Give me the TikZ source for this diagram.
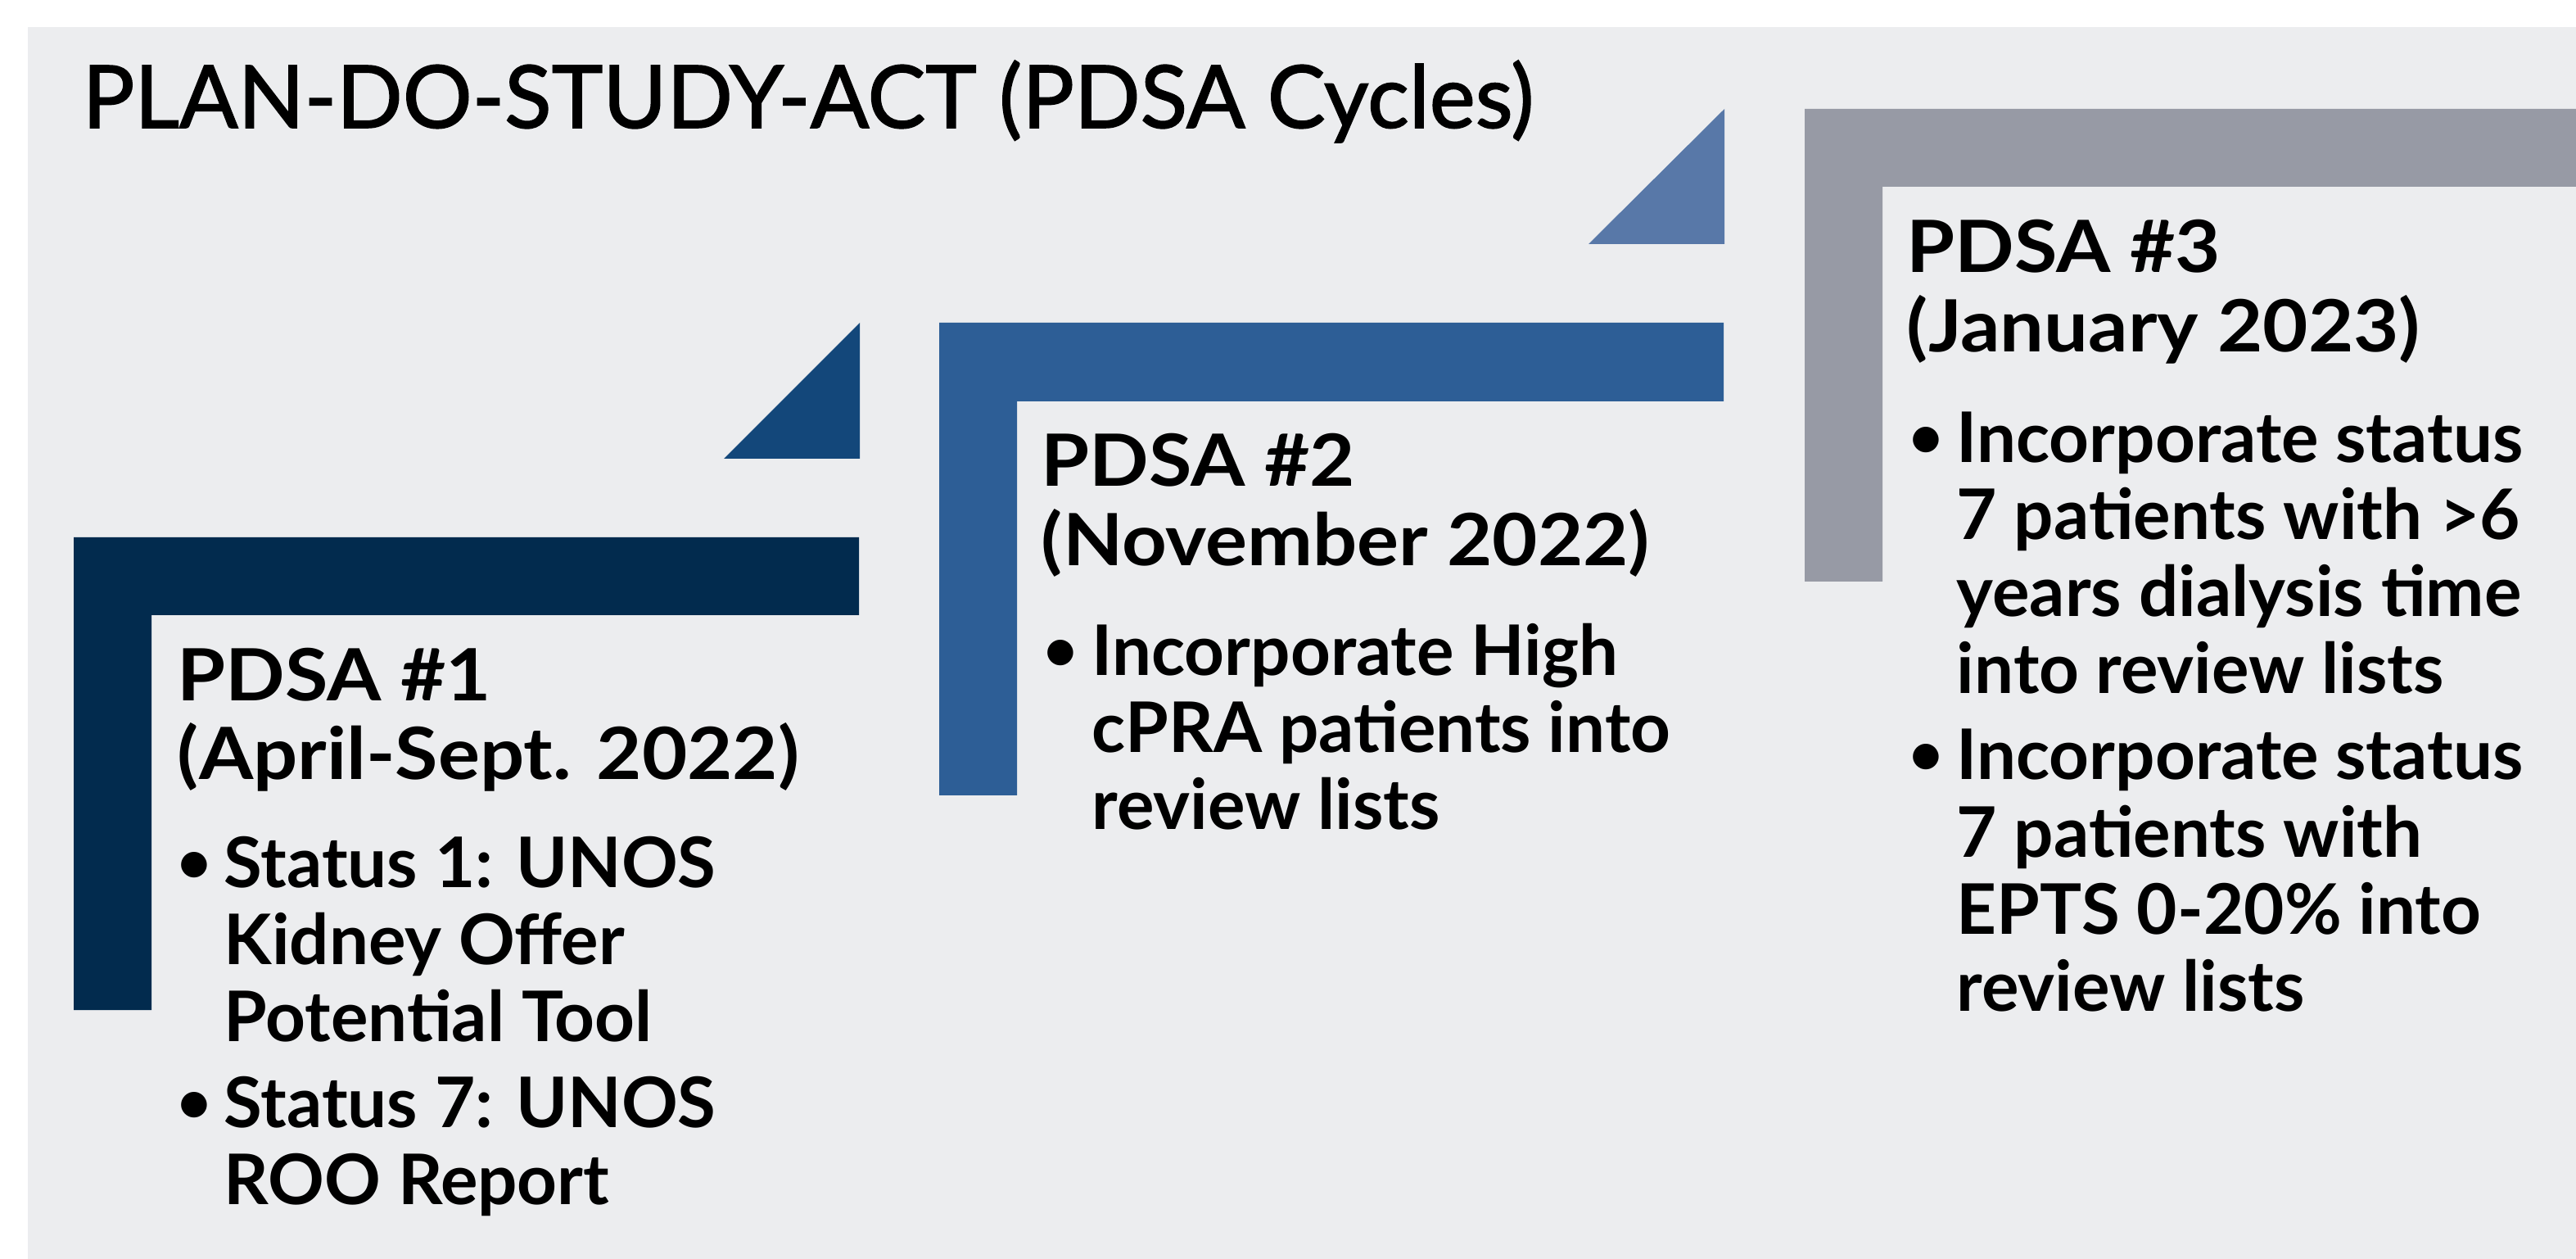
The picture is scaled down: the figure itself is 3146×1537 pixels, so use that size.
\documentclass[tikz,border=0pt]{standalone}
\usepackage{fontspec}
\setmainfont{Lato}
\newfontfamily\titlefam{Lato}[FakeBold=1.5]
\newfontfamily\bodyfam{Lato Bold}
\newfontfamily\headfam{Lato Bold}[FakeStretch=1.085]
\definecolor{bgc}{HTML}{ECEDEF}
\definecolor{cA}{HTML}{022B4E}
\definecolor{tA}{HTML}{13477A}
\definecolor{cB}{HTML}{2D5E96}
\definecolor{tB}{HTML}{5878A8}
\definecolor{cC}{HTML}{979AA5}
\newcommand{\headfont}{\headfam\fontsize{22}{24.25}\selectfont}
\newcommand{\itemfont}{\bodyfam\fontsize{21.3}{23.5}\selectfont}
\newcommand{\bulfont}{\bodyfam\fontsize{18}{18}\selectfont}
\begin{document}
\begin{tikzpicture}[x=0.25pt,y=-0.25pt,
  txt/.style={anchor=base west,inner sep=0pt,align=left,text=black},
  head/.style={txt,font=\headfont},
  item/.style={txt,font=\itemfont},
  bul/.style={anchor=base,inner sep=0pt,text=black,font=\bulfont}]
\useasboundingbox (0,0) rectangle (3146,1537);
\fill[white] (0,0) rectangle (3146,1537);
\fill[bgc] (34,33) rectangle (3146,1537);
% step 1
\fill[cA] (90,656) -- (1049,656) -- (1049,751) -- (185,751) -- (185,1233) -- (90,1233) -- cycle;
\fill[tA] (884,560) -- (1050,560) -- (1050,394) -- cycle;
% step 2
\fill[cB] (1147,394) -- (2105,394) -- (2105,490) -- (1242,490) -- (1242,971) -- (1147,971) -- cycle;
\fill[tB] (1940,298) -- (2106,298) -- (2106,133) -- cycle;
% step 3
\fill[cC] (2204,133) -- (3146,133) -- (3146,228) -- (2299,228) -- (2299,710) -- (2204,710) -- cycle;
% title
\node[txt,font={\titlefam\fontsize{26.5}{30}\selectfont}] (title) at (100,156) {PLAN-DO-STUDY-ACT (PDSA Cycles)};
% PDSA 1 (anchors are on the last line's baseline)
\node[head] (h1) at (216,952) {PDSA \#1\\(April-Sept. 2022)};
\node[bul] (b1a) at (237,1077) {•};
\node[item] (t1a) at (273,1271) {Status 1: UNOS\\Kidney Offer\\Potential Tool};
\node[bul] (b1b) at (237,1370) {•};
\node[item] (t1b) at (273,1470) {Status 7: UNOS\\ROO Report};
% PDSA 2
\node[head] (h2) at (1271,691) {PDSA \#2\\(November 2022)};
\node[bul] (b2a) at (1295,819) {•};
\node[item] (t2a) at (1333,1013) {Incorporate High\\cPRA patients into\\review lists};
% PDSA 3
\node[head] (h3) at (2328,430) {PDSA \#3\\(January 2023)};
\node[bul] (b3a) at (2352,559) {•};
\node[item] (t3a) at (2389,847) {Incorporate status\\7 patients with >6\\years dialysis time\\into review lists};
\node[bul] (b3b) at (2352,946) {•};
\node[item] (t3b) at (2389,1234) {Incorporate status\\7 patients with\\EPTS 0-20\% into\\review lists};
\end{tikzpicture}
\end{document}
